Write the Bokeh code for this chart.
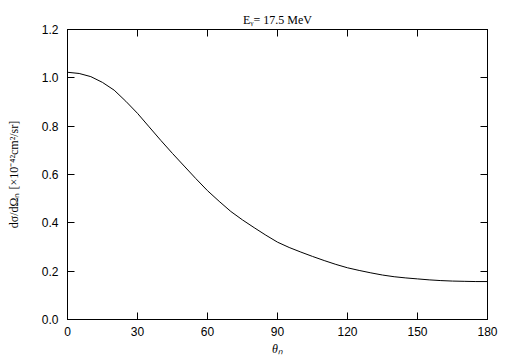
import numpy as np
from bokeh.plotting import figure
from bokeh.models import Range1d, LinearAxis, FixedTicker, NumeralTickFormatter
from bokeh.embed import file_html
from bokeh.resources import INLINE

theta = [0, 5, 10, 15, 20, 25, 30, 35, 40, 45, 50, 55, 60, 65, 70, 75, 80, 85, 90,
         95, 100, 105, 110, 115, 120, 125, 130, 135, 140, 145, 150, 155, 160, 165, 170, 175, 180]
dsigma = [1.023, 1.018, 1.005, 0.981, 0.949, 0.903, 0.853, 0.797, 0.741, 0.687, 0.635, 0.583,
          0.533, 0.489, 0.447, 0.412, 0.380, 0.349, 0.320, 0.298, 0.279, 0.261, 0.244, 0.228,
          0.214, 0.203, 0.193, 0.184, 0.177, 0.172, 0.168, 0.164, 0.161, 0.159, 0.158, 0.157, 0.157]
x_ticks = [0, 30, 60, 90, 120, 150, 180]
y_ticks = [0.0, 0.2, 0.4, 0.6, 0.8, 1.0, 1.2]
title_text = "Eᵧ= 17.5 MeV"
x_label = "θₙ"
y_label = "dσ/dΩₙ [×10⁻⁴²cm²/sr]"

W, H = 505, 361
p = figure(width=W, height=H, output_backend="svg", toolbar_location=None,
           x_range=Range1d(0, 180), y_range=Range1d(0, 1.2),
           min_border_left=67, min_border_right=18, min_border_top=29, min_border_bottom=42,
           title=title_text)
p.xgrid.visible = False
p.ygrid.visible = False
p.outline_line_color = "black"
p.outline_line_width = 1
p.background_fill_color = "white"
p.border_fill_color = "white"

p.title.align = "center"
p.title.text_font = "Liberation Serif"
p.title.text_font_style = "normal"
p.title.text_font_size = "12px"
p.title.text_color = "black"
p.title.standoff = 6
p.title.offset = -7

p.line(theta, dsigma, line_color="black", line_width=1)

def style(ax, labels=True):
    ax.major_tick_in = 7
    ax.major_tick_out = 0
    ax.minor_tick_in = 0
    ax.minor_tick_out = 0
    ax.axis_line_color = "black"
    ax.major_tick_line_color = "black"
    ax.major_label_text_font = "Liberation Sans"
    ax.major_label_text_font_size = "12px"
    ax.major_label_text_color = "black"
    if not labels:
        ax.major_label_text_font_size = "0px"
        ax.major_label_text_alpha = 0
        ax.major_label_standoff = 0

xa = p.xaxis[0]
xa.ticker = FixedTicker(ticks=x_ticks)
style(xa)
xa.major_label_standoff = 7
xa.axis_label = x_label
xa.axis_label_text_font = "Liberation Serif"
xa.axis_label_text_font_style = "italic"
xa.axis_label_text_font_size = "12px"
xa.axis_label_text_color = "black"
xa.axis_label_standoff = 3

ya = p.yaxis[0]
ya.ticker = FixedTicker(ticks=y_ticks)
ya.formatter = NumeralTickFormatter(format="0.0")
style(ya)
ya.major_label_standoff = 9
ya.axis_label = y_label
ya.axis_label_text_font = "Liberation Serif"
ya.axis_label_text_font_style = "normal"
ya.axis_label_text_font_size = "12px"
ya.axis_label_text_color = "black"
ya.axis_label_standoff = 18

top = LinearAxis(ticker=FixedTicker(ticks=x_ticks))
style(top, labels=False)
p.add_layout(top, "above")
right = LinearAxis(ticker=FixedTicker(ticks=y_ticks))
style(right, labels=False)
p.add_layout(right, "right")

open("out.html", "w").write(file_html(p, INLINE))
